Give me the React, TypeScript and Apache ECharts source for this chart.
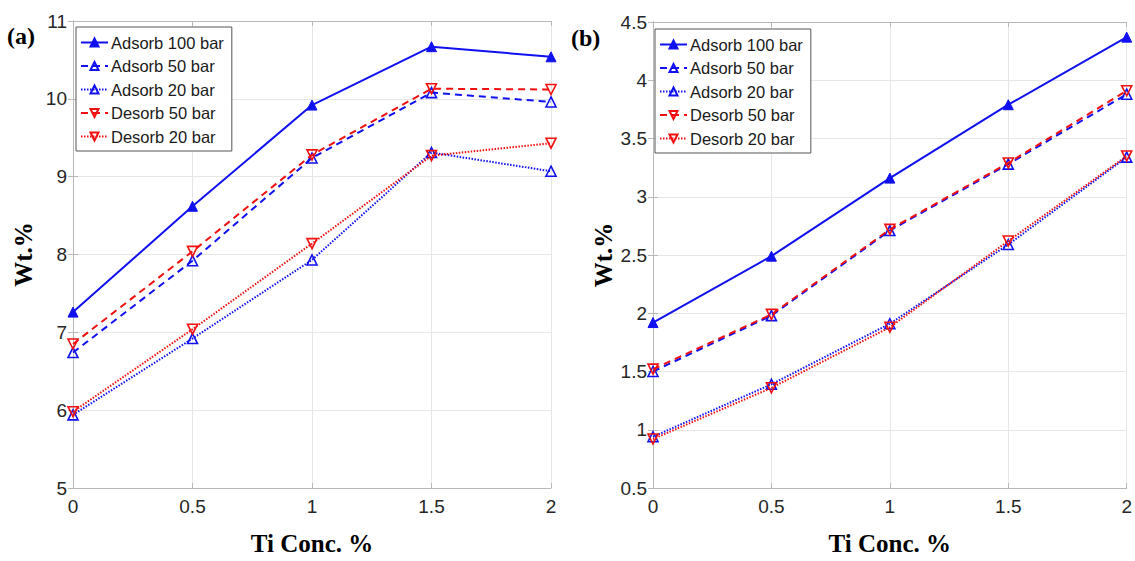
import React, { useEffect, useRef } from "react";
import * as echarts from "echarts";

const xValues = [0, 0.5, 1, 1.5, 2];
const seriesNames = ["Adsorb 100 bar", "Adsorb 50 bar", "Adsorb 20 bar", "Desorb 50 bar", "Desorb 20 bar"];

const panelA_ads100 = [7.26, 8.62, 9.92, 10.67, 10.54];
const panelA_ads50 = [6.74, 7.92, 9.24, 10.08, 9.96];
const panelA_ads20 = [5.94, 6.92, 7.93, 9.31, 9.07];
const panelA_des50 = [6.85, 8.04, 9.28, 10.13, 10.12];
const panelA_des20 = [5.98, 7.04, 8.14, 9.27, 9.43];

const panelB_ads100 = [1.92, 2.49, 3.16, 3.79, 4.37];
const panelB_ads50 = [1.5, 1.98, 2.71, 3.28, 3.88];
const panelB_ads20 = [0.94, 1.39, 1.91, 2.59, 3.34];
const panelB_des50 = [1.52, 1.99, 2.72, 3.29, 3.91];
const panelB_des20 = [0.92, 1.36, 1.88, 2.62, 3.35];

const xTitle = "Ti Conc. %";
const yTitle = "Wt.%";

const BLUE = "#1010f0";
const RED = "#f01010";

const styles = [
  { color: BLUE, type: "solid", filled: true, rotate: 0 },
  { color: BLUE, type: [7, 5], filled: false, rotate: 0 },
  { color: BLUE, type: [1.5, 1.5], filled: false, rotate: 0 },
  { color: RED, type: [7, 5], filled: false, rotate: 180 },
  { color: RED, type: [1.5, 1.5], filled: false, rotate: 180 },
];

const SANS = "'Liberation Sans', Arial, Helvetica, sans-serif";
const SERIF = "'Liberation Serif', 'Times New Roman', serif";

export default function App() {
  const ref = useRef<HTMLDivElement>(null);
  useEffect(() => {
    if (!ref.current) return;
    const chart = echarts.init(ref.current, null, { renderer: "svg" });
    const panels = [
      { data: [panelA_ads100, panelA_ads50, panelA_ads20, panelA_des50, panelA_des20], min: 5, max: 11, interval: 1, left: 73, top: 21 },
      { data: [panelB_ads100, panelB_ads50, panelB_ads20, panelB_des50, panelB_des20], min: 0.5, max: 4.5, interval: 0.5, left: 653, top: 22 },
    ];
    const grids: any[] = [];
    const xAxes: any[] = [];
    const yAxes: any[] = [];
    const series: any[] = [];
    const legends: any[] = [];
    const axisLine = { show: true, lineStyle: { color: "#b8b8b8", width: 1 } };
    const tick = { show: true, inside: true, length: 5, lineStyle: { color: "#b8b8b8" } };
    panels.forEach((p, gi) => {
      grids.push({ left: p.left, top: p.top, width: 478, height: 473, containLabel: false });
      const xi = xAxes.length;
      xAxes.push({
        type: "value", gridIndex: gi, min: 0, max: 2, interval: 0.5, position: "bottom",
        axisLine, axisTick: tick,
        axisLabel: { fontFamily: SANS, fontSize: 19, color: "#262626", margin: 9 },
        splitLine: { show: true, lineStyle: { color: "#e6e6e6", width: 1 } },
        name: xTitle, nameLocation: "middle", nameGap: 43,
        nameTextStyle: { fontFamily: SERIF, fontWeight: "bold", fontSize: 25, color: "#000" },
      });
      xAxes.push({
        type: "value", gridIndex: gi, min: 0, max: 2, interval: 0.5, position: "top",
        axisLine, axisTick: tick, axisLabel: { show: false }, splitLine: { show: false },
      });
      const yi = yAxes.length;
      yAxes.push({
        type: "value", gridIndex: gi, min: p.min, max: p.max, interval: p.interval, position: "left",
        axisLine, axisTick: tick,
        axisLabel: { fontFamily: SANS, fontSize: 19, color: "#262626", margin: 6 },
        splitLine: { show: true, lineStyle: { color: "#e6e6e6", width: 1 } },
        name: yTitle, nameLocation: "middle", nameGap: 37, nameRotate: 90,
        nameTextStyle: { fontFamily: SERIF, fontWeight: "bold", fontSize: 25, color: "#000" },
      });
      yAxes.push({
        type: "value", gridIndex: gi, min: p.min, max: p.max, interval: p.interval, position: "right",
        axisLine, axisTick: tick, axisLabel: { show: false }, splitLine: { show: false },
      });
      p.data.forEach((arr, si) => {
        const s = styles[si];
        series.push({
          type: "line",
          name: seriesNames[si],
          xAxisIndex: xi,
          yAxisIndex: yi,
          data: xValues.map((x, i) => [x, arr[i]]),
          symbol: "triangle",
          symbolSize: 10,
          symbolRotate: s.rotate,
          showAllSymbol: true,
          lineStyle: { color: s.color, type: s.type, width: 2 },
          itemStyle: s.filled
            ? { color: s.color, borderColor: s.color, borderWidth: 1 }
            : { color: "rgba(255,255,255,0)", borderColor: s.color, borderWidth: 1.6 },
          z: 2 + si,
        });
      });
      legends.push({
        data: seriesNames,
        orient: "vertical",
        left: gi === 0 ? 76 : 655,
        top: gi === 0 ? 27 : 29,
        padding: [7, 8, 6, 4],
        itemGap: 6.5,
        itemWidth: 27,
        itemHeight: 10,
        backgroundColor: "#fff",
        borderColor: "#555",
        borderWidth: 1,
        borderRadius: 0,
        selectedMode: false,
        textStyle: { fontFamily: SANS, fontSize: 16.5, lineHeight: 17, color: "#1a1a1a", padding: [0, 0, 0, -2] },
      });
    });
    chart.setOption({
      animation: false,
      backgroundColor: "#fff",
      grid: grids,
      xAxis: xAxes,
      yAxis: yAxes,
      series,
      legend: legends,
      graphic: [
        { type: "text", left: 7, top: 24, style: { text: "(a)", fontFamily: SERIF, fontWeight: "bold", fontSize: 24, fill: "#000" } },
        { type: "text", left: 571, top: 26, style: { text: "(b)", fontFamily: SERIF, fontWeight: "bold", fontSize: 24, fill: "#000" } },
      ],
    });
    return () => chart.dispose();
  }, []);
  return <div ref={ref} style={{ position: "fixed", left: 0, top: 0, width: 1135, height: 561 }} />;
}
